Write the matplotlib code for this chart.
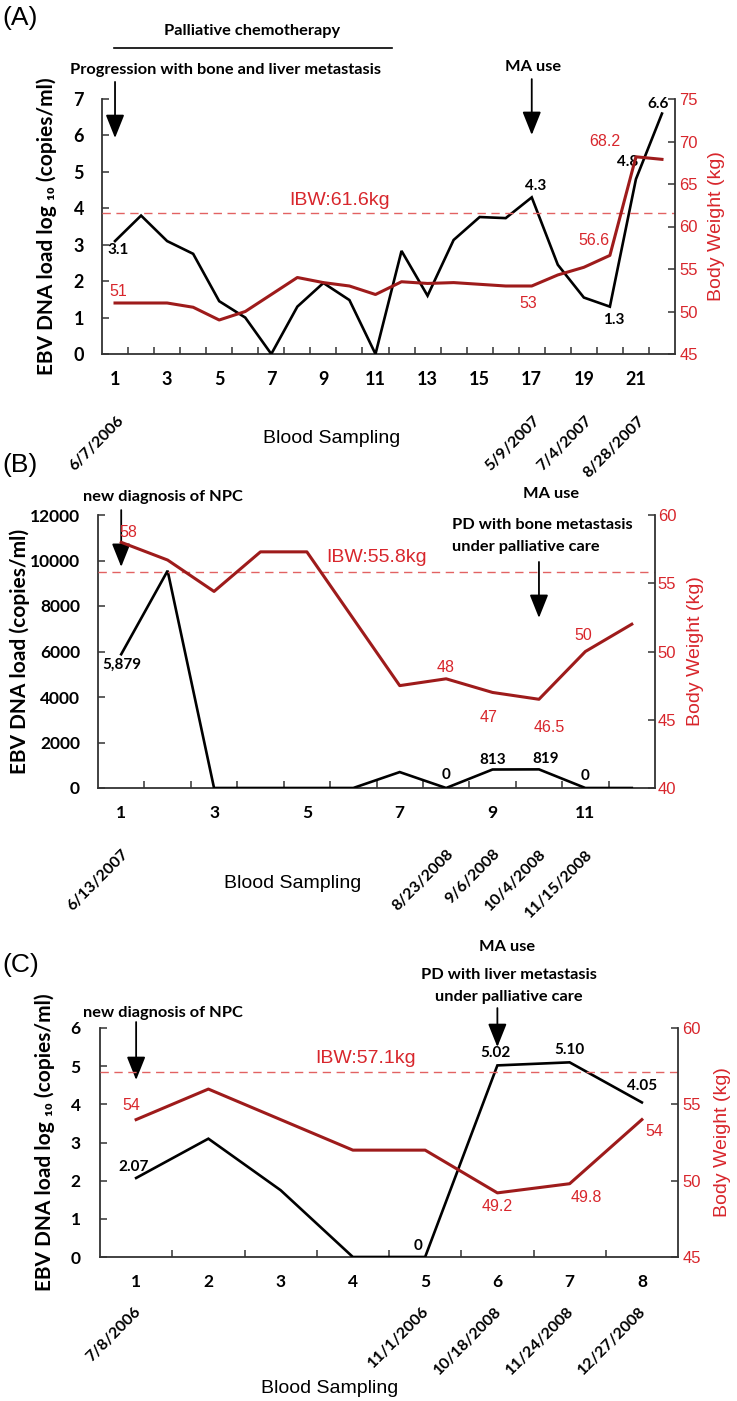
import numpy as np
import matplotlib
matplotlib.use('Agg')
from matplotlib import pyplot as plt
from matplotlib.lines import Line2D

W, H = 737, 1401

# panel A: EBV DNA (log10 copies/ml) and body weight (kg)
a_ebv = [3.1, 3.8, 3.1, 2.75, 1.45, 1.0, 0.0, 1.3, 1.95, 1.48, 0.0,
         2.83, 1.6, 3.13, 3.76, 3.73, 4.3, 2.45, 1.55, 1.3, 4.8, 6.6]
a_bw = [51, 51, 51, 50.5, 49, 50, 52, 54, 53.4, 53, 52,
        53.5, 53.3, 53.4, 53.2, 53, 53, 54.3, 55.2, 56.6, 68.2, 67.9]
a_ibw = 61.6
a_dates = {1: '6/7/2006', 17: '5/9/2007', 19: '7/4/2007', 21: '8/28/2007'}

# panel B: EBV DNA (copies/ml) and body weight (kg)
b_ebv = [5879, 9550, 0, 0, 0, 0, 700, 0, 813, 819, 0, 0]
b_bw = [58, 56.7, 54.4, 57.3, 57.3, 52.4, 47.5, 48, 47, 46.5, 50, 52]
b_ibw = 55.8
b_dates = {1: '6/13/2007', 8: '8/23/2008', 9: '9/6/2008', 10: '10/4/2008', 11: '11/15/2008'}

# panel C: EBV DNA (log10 copies/ml) and body weight (kg)
c_ebv = [2.07, 3.1, 1.75, 0.0, 0.0, 5.02, 5.10, 4.05]
c_bw = [54, 56, 54, 52, 52, 49.2, 49.8, 54]
c_ibw = 57.1
c_dates = {1: '7/8/2006', 5: '11/1/2006', 6: '10/18/2008', 7: '11/24/2008', 8: '12/27/2008'}

RED_TXT = '#D8262C'
RED_LN = '#9E1B1B'
RED_DASH = '#E26262'
SPINE = '#333333'
ARIAL = ['Liberation Sans', 'DejaVu Sans']
ANN = 11.8

plt.rcParams['font.family'] = ['Lato', 'DejaVu Sans']
plt.rcParams['font.weight'] = 'bold'


def px(x, y):
    return x / W, 1 - y / H


def ftext(x, y, s, **kw):
    fx, fy = px(x, y)
    fig.text(fx, fy, s, **kw)


def arrow(ax, x, y0, y1):
    ax.annotate('', xy=(x, y1), xytext=(x, y0),
                xycoords=('data', 'axes fraction'), textcoords=('data', 'axes fraction'),
                arrowprops=dict(arrowstyle='-|>,head_length=1.0,head_width=0.4',
                                mutation_scale=14.4, lw=1.3, color='k',
                                shrinkA=0, shrinkB=0),
                annotation_clip=False)


def panel(rect, ebv, bw, ibw, dates, ylim, yticks, bwlim, ylabel, xstep, fs,
          date_off, ylab_x, rlab_x, lpad, rpad, xpad):
    l, t, r, b = rect
    fx, fy = px(l, b)
    ax = fig.add_axes([fx, fy, (r - l) / W, (b - t) / H])
    ax2 = ax.twinx()
    n = len(ebv)
    x = np.arange(1, n + 1)
    ax.plot(x, ebv, color='k', lw=1.9, solid_joinstyle='miter', zorder=3)
    ax2.plot(x, bw, color=RED_LN, lw=2.2, zorder=3)
    ax2.axhline(ibw, color=RED_DASH, lw=1.0, dashes=(6, 4))
    ax.set_xlim(0.5, n + 0.5)
    ax.set_ylim(*ylim)
    ax2.set_ylim(*bwlim)
    ax.set_yticks(yticks)
    ax2.set_yticks(np.arange(bwlim[0], bwlim[1] + 1, 5))
    ax.set_xticks(np.arange(1, n + 1, xstep))
    ax.set_xticks(np.arange(1.5, n, 1), minor=True)
    ax.tick_params(axis='x', which='major', length=0, pad=xpad, labelsize=fs)
    ax.tick_params(axis='x', which='minor', direction='in', length=5, width=1.1, color=SPINE)
    ax.tick_params(axis='y', direction='in', length=5, width=1.1, color=SPINE, pad=lpad, labelsize=fs)
    ax2.tick_params(axis='y', direction='in', length=5, width=1.1, color=SPINE, pad=rpad,
                    labelsize=12, labelcolor=RED_TXT)
    for lbl in ax2.get_yticklabels():
        lbl.set_family(ARIAL)
        lbl.set_weight('normal')
    for a in (ax, ax2):
        a.spines['top'].set_visible(False)
        for s in ('left', 'right', 'bottom'):
            a.spines[s].set_color(SPINE)
            a.spines[s].set_linewidth(1.3)
        a.patch.set_visible(False)
    ax.spines['right'].set_visible(False)
    ax2.spines['left'].set_visible(False)
    ax2.spines['bottom'].set_visible(False)
    ax.set_ylabel(ylabel, fontsize=15, fontweight='bold')
    ax.yaxis.set_label_coords(ylab_x, 0.5)
    ax2.set_ylabel('Body Weight (kg)', fontsize=14, color=RED_TXT, family=ARIAL, fontweight='normal')
    ax2.yaxis.set_label_coords(rlab_x, 0.5)
    for k, s in dates.items():
        ax.annotate(s, xy=(k, 0), xycoords=('data', 'axes fraction'),
                    xytext=(date_off[0], date_off[1]), textcoords='offset points',
                    rotation=45, ha='right', va='top', rotation_mode='anchor',
                    fontsize=11.5, fontweight='bold')
    return ax, ax2


def vlabel(ax, xi, vals, s, dx, dy, red=False, fs=11):
    # dx, dy in pixels, dy positive means downward
    kw = dict(color=RED_TXT, family=ARIAL, fontweight='normal') if red else dict(color='k', fontweight='bold')
    ax.annotate(s, xy=(xi, vals[xi - 1]), xytext=(dx * 0.72, -dy * 0.72),
                textcoords='offset points', ha='center', va='center',
                fontsize=fs, annotation_clip=False, **kw)


fig = plt.figure(figsize=(W / 100, H / 100), dpi=100)

# ---------------- (A)
ax, ax2 = panel((102, 99, 675, 354), a_ebv, a_bw, a_ibw, a_dates, (0, 7), range(0, 8), (45, 75),
                'EBV DNA load log ₁₀ (copies/ml)', 2, 13, (1, -43), -0.078, 1.058, 13, 3, 12)
vlabel(ax, 1, a_ebv, '3.1', 3, 9)
vlabel(ax, 17, a_ebv, '4.3', 4, -11)
vlabel(ax, 20, a_ebv, '1.3', 4, 13)
vlabel(ax, 21, a_ebv, '4.8', -8, -17)
vlabel(ax, 22, a_ebv, '6.6', -4, -10)
vlabel(ax2, 1, a_bw, '51', 3, -11, red=True, fs=11.5)
vlabel(ax2, 17, a_bw, '53', -4, 18, red=True, fs=11.5)
vlabel(ax2, 20, a_bw, '56.6', -16, -15, red=True, fs=11.5)
vlabel(ax2, 21, a_bw, '68.2', -31, -15, red=True, fs=11.5)
ax2.text(0.415, (a_ibw - 45) / 30 + 0.016, 'IBW:61.6kg', transform=ax2.transAxes, ha='center',
         va='bottom', color=RED_TXT, family=ARIAL, fontweight='normal', fontsize=14)
arrow(ax, 1, 1.067, 0.847)
arrow(ax, 17, 1.078, 0.859)
ax.set_xlabel('Blood Sampling', family=ARIAL, fontweight='normal', fontsize=14)
ax.xaxis.set_label_coords(0.4, -0.30)
ftext(2, 18, '(A)', fontsize=19, family=ARIAL, fontweight='normal', va='center')
ftext(252, 31, 'Palliative chemotherapy', fontsize=ANN, ha='center', va='center')
fig.add_artist(Line2D([114 / W, 392 / W], [1 - 48 / H, 1 - 48 / H], color='k', lw=1.2))
ftext(225, 70, 'Progression with bone and liver metastasis', fontsize=ANN, ha='center', va='center')
ftext(533, 67, 'MA use', fontsize=ANN, ha='center', va='center')

# ---------------- (B)
ax, ax2 = panel((98, 515, 655, 788), b_ebv, b_bw, b_ibw, b_dates, (0, 12000), range(0, 12001, 2000),
                (40, 60), 'EBV DNA load (copies/ml)', 2, 12.5, (0, -42.5), -0.122, 1.057, 13, 2, 12)
vlabel(ax, 1, b_ebv, '5,879', 1, 11)
vlabel(ax, 8, b_ebv, '0', 0, -13)
vlabel(ax, 9, b_ebv, '813', 0, -10)
vlabel(ax, 10, b_ebv, '819', 7, -10)
vlabel(ax, 11, b_ebv, '0', 0, -12)
vlabel(ax2, 1, b_bw, '58', 7, -10, red=True, fs=11.5)
vlabel(ax2, 8, b_bw, '48', 0, -11, red=True, fs=11.5)
vlabel(ax2, 9, b_bw, '47', -4, 25, red=True, fs=11.5)
vlabel(ax2, 10, b_bw, '46.5', 10, 28, red=True, fs=11.5)
vlabel(ax2, 11, b_bw, '50', -2, -16, red=True, fs=11.5)
ax2.text(0.5, (b_ibw - 40) / 20 + 0.022, 'IBW:55.8kg', transform=ax2.transAxes, ha='center',
         va='bottom', color=RED_TXT, family=ARIAL, fontweight='normal', fontsize=14)
arrow(ax, 1, 1.018, 0.81)
arrow(ax, 10, 0.828, 0.623)
ax.set_xlabel('Blood Sampling', family=ARIAL, fontweight='normal', fontsize=14)
ax.xaxis.set_label_coords(0.35, -0.32)
ftext(2, 465, '(B)', fontsize=19, family=ARIAL, fontweight='normal', va='center')
ftext(163, 497, 'new diagnosis of NPC', fontsize=ANN, ha='center', va='center')
ftext(551, 494, 'MA use', fontsize=ANN, ha='center', va='center')
ftext(452, 525, 'PD with bone metastasis', fontsize=ANN, ha='left', va='center')
ftext(452, 547, 'under palliative care', fontsize=ANN, ha='left', va='center')

# ---------------- (C)
ax, ax2 = panel((100, 1028, 678, 1257), c_ebv, c_bw, c_ibw, c_dates, (0, 6), range(0, 7),
                (45, 60), 'EBV DNA load log ₁₀ (copies/ml)', 1, 12.5, (-2, -34), -0.078, 1.062, 14, 3, 12)
vlabel(ax, 1, c_ebv, '2.07', -3, -11)
vlabel(ax, 5, c_ebv, '0', -7, -11)
vlabel(ax, 6, c_ebv, '5.02', -2, -12)
vlabel(ax, 7, c_ebv, '5.10', 0, -12)
vlabel(ax, 8, c_ebv, '4.05', 0, -16)
vlabel(ax2, 1, c_bw, '54', -5, -14, red=True, fs=11.5)
vlabel(ax2, 6, c_bw, '49.2', 0, 14, red=True, fs=11.5)
vlabel(ax2, 7, c_bw, '49.8', 17, 14, red=True, fs=11.5)
vlabel(ax2, 8, c_bw, '54', 12, 12, red=True, fs=11.5)
ax2.text(0.46, (c_ibw - 45) / 15 + 0.022, 'IBW:57.1kg', transform=ax2.transAxes, ha='center',
         va='bottom', color=RED_TXT, family=ARIAL, fontweight='normal', fontsize=14)
arrow(ax, 1, 1.026, 0.773)
arrow(ax, 6, 1.087, 0.917)
ax.set_xlabel('Blood Sampling', family=ARIAL, fontweight='normal', fontsize=14)
ax.xaxis.set_label_coords(0.398, -0.537)
ftext(2, 965, '(C)', fontsize=19, family=ARIAL, fontweight='normal', va='center')
ftext(507, 947, 'MA use', fontsize=ANN, ha='center', va='center')
ftext(509, 975, 'PD with liver metastasis', fontsize=ANN, ha='center', va='center')
ftext(509, 997, 'under palliative care', fontsize=ANN, ha='center', va='center')
ftext(163, 1013, 'new diagnosis of NPC', fontsize=ANN, ha='center', va='center')

fig.savefig('out.png', dpi=100)
